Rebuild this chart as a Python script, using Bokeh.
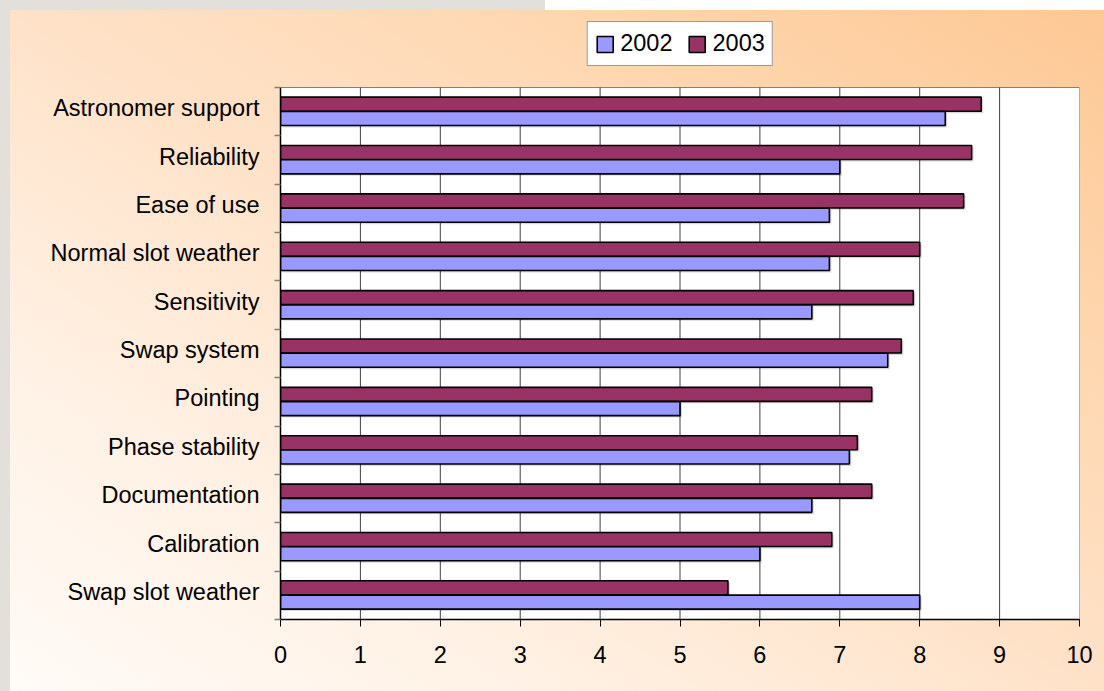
import numpy as np
from bokeh.plotting import figure
from bokeh.models import (ColumnDataSource, Range1d, FixedTicker, Legend, LegendItem)
from bokeh.transform import dodge
from bokeh.embed import file_html
from bokeh.resources import INLINE

# Survey scores per category, listed top to bottom as displayed
categories = [
    "Astronomer support", "Reliability", "Ease of use", "Normal slot weather",
    "Sensitivity", "Swap system", "Pointing", "Phase stability",
    "Documentation", "Calibration", "Swap slot weather",
]
scores_2002 = [8.32, 7.0, 6.87, 6.87, 6.65, 7.6, 5.0, 7.12, 6.65, 6.0, 8.0]
scores_2003 = [8.77, 8.65, 8.55, 8.0, 7.92, 7.77, 7.4, 7.22, 7.4, 6.9, 5.6]
x_ticks = list(range(0, 11))
series_names = ["2002", "2003"]
series_colors = ["#9999FF", "#993366"]

FONT = "Liberation Sans"
FSIZE = "23.5px"

W, H = 1104, 691
BORDER_L, BORDER_R, BORDER_T, BORDER_B = 280, 25, 10, 72
PLOT_TOP = 87          # top edge of the white plot area, px from the top

n = len(categories)
# row centres counted from the bottom of the chart
pos = [n - 1 - i + 0.5 for i in range(n)]
label_lift = 0.07      # category labels sit a little above the row centre

# the frame also holds the legend strip above the plot area
row_px = (H - BORDER_B - PLOT_TOP) / n
y_top = n + (PLOT_TOP - BORDER_T) / row_px

source = ColumnDataSource(dict(
    pos=pos,
    v2002=scores_2002,
    v2003=scores_2003,
    s2002=[v + 0.025 for v in scores_2002],
    s2003=[v + 0.025 for v in scores_2003],
))

p = figure(
    width=W, height=H,
    x_range=Range1d(x_ticks[0], x_ticks[-1]), y_range=Range1d(0, y_top),
    output_backend="svg", toolbar_location=None,
    min_border_left=BORDER_L, min_border_right=BORDER_R,
    min_border_top=BORDER_T, min_border_bottom=BORDER_B,
)
p.border_fill_color = None
p.background_fill_color = None
p.outline_line_color = None
p.grid.visible = False
p.styles = {
    "background": (
        "linear-gradient(32deg, #fffbf7 0%, #fff1e4 25%, #fee2c8 50%, "
        "#fed9b4 70%, #fdc894 100%) 10px 10px / 1094px 681px no-repeat, "
        "linear-gradient(90deg, #e3e0db 545px, #ffffff 545px)"
    )
}

# white plot area with a grey border
p.quad(left=x_ticks[0], right=x_ticks[-1], bottom=0, top=n,
       fill_color="#ffffff", line_color="#808080", line_width=1, level="image")

# vertical gridlines at the inner value ticks
p.segment(x0=x_ticks[1:-1], y0=0, x1=x_ticks[1:-1], y1=n,
          line_color="#404040", line_width=1, level="underlay")

bar_h = 0.29
off_2003 = 0.155
off_2002 = -0.14
shadow_dy = -0.04

# soft drop shadows under the bars
p.hbar(y=dodge("pos", off_2003 + shadow_dy), left=0.025, right="s2003", height=bar_h,
       source=source, fill_color="#000000", fill_alpha=0.15, line_color=None)
p.hbar(y=dodge("pos", off_2002 + shadow_dy), left=0.025, right="s2002", height=bar_h,
       source=source, fill_color="#000000", fill_alpha=0.15, line_color=None)

r03 = p.hbar(y=dodge("pos", off_2003), left=0, right="v2003", height=bar_h,
             source=source, fill_color=series_colors[1],
             line_color="#000000", line_width=1.6)
r02 = p.hbar(y=dodge("pos", off_2002), left=0, right="v2002", height=bar_h,
             source=source, fill_color=series_colors[0],
             line_color="#000000", line_width=1.6)

# value axis
xa = p.xaxis[0]
xa.ticker = FixedTicker(ticks=x_ticks)
xa.axis_line_color = "#000000"
xa.axis_line_width = 1.5
xa.major_tick_line_color = "#000000"
xa.major_tick_out = 7
xa.major_tick_in = 0
xa.minor_tick_line_color = None
xa.major_label_text_font = FONT
xa.major_label_text_font_size = FSIZE
xa.major_label_text_color = "#000000"
xa.major_label_standoff = 19

# category axis: labels at row centres, ticks on row boundaries
label_at = [y + label_lift for y in pos]
ya = p.yaxis[0]
ya.bounds = (0, n)
ya.ticker = FixedTicker(ticks=label_at, minor_ticks=list(range(n + 1)))
ya.major_label_overrides = {float(y): name for y, name in zip(label_at, categories)}
ya.axis_line_color = "#000000"
ya.axis_line_width = 1.5
ya.major_tick_line_color = None
ya.major_tick_out = 0
ya.major_tick_in = 0
ya.minor_tick_line_color = "#808080"
ya.minor_tick_line_width = 1.5
ya.minor_tick_out = 6
ya.minor_tick_in = 0
ya.major_label_text_font = FONT
ya.major_label_text_font_size = FSIZE
ya.major_label_text_color = "#000000"
ya.major_label_standoff = 15

legend = Legend(
    items=[LegendItem(label=series_names[0], renderers=[r02]),
           LegendItem(label=series_names[1], renderers=[r03])],
    location="top_center", orientation="horizontal",
    border_line_color="#333333", border_line_width=1,
    background_fill_color="#ffffff", background_fill_alpha=1,
    label_text_font=FONT, label_text_font_size=FSIZE,
    label_text_color="#000000", label_height=29,
    padding=7, spacing=14, label_standoff=6,
    glyph_width=20, glyph_height=20, margin=11,
)
p.add_layout(legend)

open("out.html", "w").write(file_html(p, INLINE))
